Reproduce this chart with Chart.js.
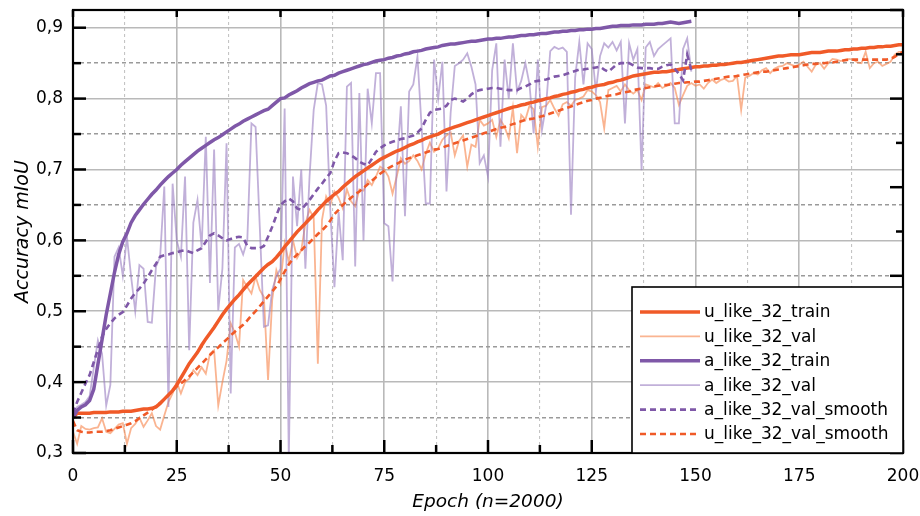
<!DOCTYPE html>
<html><head><meta charset="utf-8">
<script src="https://cdn.jsdelivr.net/npm/chart.js@4.4.0/dist/chart.umd.min.js"></script>
<style>html,body{margin:0;padding:0;background:#fff;}</style>
</head><body>
<canvas id="c" width="920" height="516" style="display:block;width:920px;height:516px"></canvas>
<script>
// ---------- data ----------
const seriesNames = ["u_like_32_train","u_like_32_val","a_like_32_train","a_like_32_val","a_like_32_val_smooth","u_like_32_val_smooth"];
const xTickLabels = [0,25,50,75,100,125,150,175,200];
const xMinorTicks = [12.5,37.5,62.5,87.5,112.5,137.5,162.5,187.5];
const yTickLabels = [0.3,0.4,0.5,0.6,0.7,0.8,0.9];
const yMinorTicks = [0.35,0.45,0.55,0.65,0.75,0.85];
const rightTicks = [0,0.1,0.2,0.3,0.4,0.5,0.6,0.7,0.8,0.9,1.0];

const uTrain = [
0.350,0.356,0.356,0.356,0.356,0.357,0.357,0.357,0.357,0.358,
0.358,0.358,0.359,0.359,0.359,0.360,0.361,0.362,0.362,0.363,
0.365,0.370,0.376,0.382,0.388,0.396,0.406,0.416,0.426,0.434,
0.442,0.452,0.461,0.469,0.477,0.486,0.495,0.503,0.510,0.517,
0.523,0.530,0.537,0.543,0.549,0.555,0.561,0.566,0.570,0.576,
0.583,0.591,0.598,0.605,0.612,0.618,0.624,0.630,0.636,0.643,
0.649,0.655,0.660,0.665,0.669,0.675,0.680,0.685,0.690,0.694,
0.698,0.702,0.706,0.710,0.714,0.717,0.720,0.723,0.726,0.728,
0.731,0.734,0.736,0.739,0.741,0.744,0.746,0.748,0.750,0.753,
0.756,0.758,0.760,0.762,0.764,0.766,0.768,0.770,0.772,0.774,
0.776,0.778,0.780,0.782,0.784,0.786,0.788,0.789,0.791,0.792,
0.794,0.795,0.797,0.798,0.800,0.801,0.803,0.804,0.806,0.807,
0.809,0.810,0.812,0.813,0.815,0.816,0.818,0.819,0.820,0.822,
0.823,0.825,0.826,0.828,0.830,0.832,0.833,0.834,0.835,0.836,
0.837,0.837,0.838,0.838,0.839,0.840,0.841,0.842,0.843,0.844,
0.845,0.845,0.846,0.846,0.847,0.847,0.848,0.848,0.849,0.850,
0.851,0.851,0.852,0.853,0.854,0.855,0.856,0.857,0.858,0.859,
0.860,0.860,0.861,0.862,0.862,0.862,0.863,0.864,0.865,0.865,
0.865,0.866,0.867,0.867,0.867,0.868,0.869,0.869,0.870,0.870,
0.871,0.871,0.872,0.872,0.873,0.873,0.874,0.874,0.875,0.876,
0.876];

const uVal = [
0.330,0.313,0.338,0.334,0.333,0.335,0.336,0.349,0.330,0.328,
0.334,0.340,0.342,0.313,0.335,0.341,0.350,0.337,0.346,0.356,
0.338,0.333,0.353,0.372,0.384,0.400,0.384,0.400,0.405,0.417,
0.410,0.421,0.412,0.440,0.445,0.367,0.400,0.430,0.483,0.470,
0.450,0.544,0.534,0.525,0.549,0.530,0.520,0.403,0.516,0.558,
0.540,0.596,0.570,0.600,0.575,0.586,0.624,0.643,0.632,0.426,
0.629,0.662,0.650,0.669,0.660,0.645,0.672,0.655,0.648,0.672,
0.670,0.685,0.678,0.690,0.704,0.700,0.690,0.666,0.690,0.716,
0.708,0.712,0.720,0.712,0.700,0.722,0.738,0.725,0.730,0.742,
0.748,0.752,0.720,0.740,0.748,0.704,0.735,0.732,0.770,0.762,
0.765,0.770,0.746,0.770,0.760,0.744,0.787,0.723,0.777,0.770,
0.790,0.785,0.732,0.788,0.790,0.798,0.786,0.776,0.792,0.795,
0.790,0.798,0.800,0.803,0.812,0.810,0.805,0.795,0.758,0.812,
0.815,0.818,0.810,0.820,0.812,0.807,0.812,0.798,0.820,0.818,
0.816,0.822,0.815,0.818,0.822,0.815,0.791,0.805,0.818,0.822,
0.818,0.820,0.814,0.822,0.827,0.822,0.826,0.828,0.824,0.825,
0.832,0.784,0.830,0.832,0.836,0.834,0.840,0.843,0.836,0.842,
0.845,0.846,0.850,0.848,0.846,0.848,0.852,0.845,0.838,0.848,
0.850,0.842,0.850,0.856,0.855,0.853,0.855,0.856,0.855,0.851,
0.850,0.866,0.843,0.850,0.852,0.846,0.849,0.852,0.862,0.866,
0.866];

const uValSmooth = [
0.345,0.332,0.330,0.329,0.329,0.330,0.330,0.330,0.331,0.332,
0.334,0.336,0.338,0.340,0.342,0.345,0.349,0.353,0.357,0.361,
0.366,0.371,0.376,0.381,0.388,0.394,0.398,0.403,0.408,0.414,
0.420,0.426,0.432,0.438,0.444,0.449,0.455,0.460,0.466,0.471,
0.476,0.481,0.487,0.494,0.500,0.507,0.514,0.521,0.528,0.535,
0.545,0.556,0.566,0.574,0.580,0.586,0.592,0.597,0.603,0.609,
0.614,0.620,0.628,0.637,0.643,0.650,0.655,0.660,0.665,0.669,
0.674,0.679,0.684,0.689,0.694,0.698,0.702,0.705,0.708,0.711,
0.714,0.716,0.718,0.720,0.722,0.724,0.726,0.728,0.729,0.731,
0.733,0.735,0.737,0.739,0.741,0.743,0.745,0.747,0.749,0.751,
0.753,0.755,0.757,0.759,0.760,0.762,0.764,0.766,0.768,0.770,
0.771,0.772,0.774,0.775,0.777,0.779,0.781,0.783,0.785,0.787,
0.789,0.791,0.793,0.795,0.797,0.798,0.800,0.801,0.803,0.804,
0.805,0.806,0.808,0.809,0.810,0.812,0.813,0.814,0.815,0.816,
0.817,0.818,0.819,0.819,0.820,0.821,0.822,0.822,0.823,0.823,
0.824,0.824,0.825,0.826,0.827,0.828,0.829,0.830,0.831,0.831,
0.832,0.833,0.834,0.835,0.836,0.837,0.838,0.838,0.839,0.840,
0.841,0.842,0.843,0.844,0.845,0.846,0.847,0.848,0.849,0.849,
0.850,0.850,0.851,0.851,0.852,0.853,0.854,0.855,0.855,0.855,
0.855,0.855,0.855,0.855,0.855,0.855,0.855,0.856,0.859,0.863,
0.866];

const aTrain = [
0.350,0.360,0.365,0.368,0.374,0.390,0.425,0.460,0.495,0.525,
0.555,0.580,0.598,0.610,0.625,0.635,0.643,0.651,0.658,0.665,
0.671,0.678,0.684,0.690,0.695,0.700,0.706,0.711,0.716,0.721,
0.726,0.730,0.734,0.738,0.742,0.745,0.749,0.753,0.757,0.761,
0.764,0.768,0.771,0.774,0.777,0.780,0.783,0.785,0.790,0.795,
0.800,0.801,0.805,0.808,0.811,0.815,0.818,0.821,0.823,0.825,
0.826,0.829,0.832,0.833,0.836,0.838,0.840,0.842,0.844,0.846,
0.848,0.849,0.851,0.853,0.854,0.855,0.857,0.858,0.860,0.861,
0.863,0.864,0.866,0.867,0.868,0.870,0.871,0.872,0.873,0.875,
0.876,0.877,0.877,0.878,0.879,0.880,0.881,0.881,0.882,0.883,
0.884,0.884,0.885,0.885,0.886,0.887,0.887,0.888,0.889,0.889,
0.890,0.890,0.891,0.892,0.892,0.893,0.894,0.894,0.895,0.895,
0.896,0.896,0.897,0.897,0.898,0.898,0.899,0.899,0.900,0.901,
0.902,0.902,0.903,0.903,0.903,0.904,0.904,0.904,0.905,0.905,
0.905,0.906,0.906,0.907,0.908,0.907,0.906,0.907,0.908,0.909];

const aVal = [
0.355,0.365,0.368,0.372,0.380,0.420,0.459,0.440,0.367,0.396,
0.577,0.590,0.550,0.605,0.549,0.500,0.565,0.560,0.485,0.484,
0.563,0.577,0.676,0.365,0.680,0.600,0.577,0.690,0.445,0.625,
0.657,0.590,0.746,0.540,0.728,0.501,0.560,0.737,0.384,0.590,
0.595,0.580,0.600,0.765,0.760,0.620,0.478,0.480,0.530,0.549,
0.560,0.786,0.290,0.690,0.620,0.700,0.560,0.690,0.784,0.822,
0.820,0.790,0.643,0.534,0.640,0.572,0.817,0.822,0.563,0.808,
0.600,0.814,0.765,0.836,0.836,0.624,0.620,0.542,0.704,0.789,
0.634,0.810,0.820,0.859,0.760,0.652,0.652,0.855,0.800,0.852,
0.669,0.780,0.846,0.850,0.855,0.864,0.845,0.820,0.709,0.720,
0.690,0.840,0.878,0.732,0.855,0.800,0.878,0.810,0.825,0.850,
0.820,0.751,0.855,0.756,0.790,0.867,0.873,0.870,0.872,0.866,
0.636,0.830,0.880,0.820,0.878,0.870,0.810,0.860,0.878,0.872,
0.880,0.868,0.880,0.765,0.878,0.855,0.870,0.699,0.872,0.880,
0.860,0.870,0.875,0.880,0.885,0.765,0.765,0.870,0.885,0.838];

const aValSmooth = [
0.356,0.372,0.385,0.398,0.410,0.428,0.446,0.464,0.475,0.483,
0.490,0.495,0.499,0.508,0.518,0.526,0.532,0.539,0.548,0.558,
0.567,0.577,0.579,0.580,0.582,0.583,0.585,0.586,0.584,0.582,
0.586,0.589,0.598,0.607,0.610,0.607,0.603,0.600,0.602,0.604,
0.605,0.604,0.592,0.589,0.589,0.589,0.592,0.605,0.619,0.635,
0.650,0.655,0.659,0.655,0.645,0.643,0.650,0.657,0.665,0.673,
0.680,0.688,0.695,0.712,0.723,0.724,0.723,0.720,0.716,0.711,
0.708,0.706,0.715,0.725,0.730,0.734,0.737,0.739,0.741,0.743,
0.744,0.746,0.748,0.752,0.758,0.770,0.780,0.784,0.785,0.786,
0.790,0.798,0.800,0.798,0.796,0.800,0.806,0.810,0.812,0.813,
0.814,0.815,0.815,0.814,0.813,0.812,0.812,0.812,0.815,0.817,
0.820,0.824,0.825,0.826,0.827,0.829,0.831,0.832,0.833,0.835,
0.837,0.839,0.841,0.841,0.842,0.843,0.844,0.845,0.841,0.838,
0.843,0.848,0.850,0.850,0.850,0.847,0.844,0.843,0.843,0.843,
0.842,0.842,0.845,0.847,0.848,0.842,0.835,0.826,0.862,0.840];

// ---------- build chart ----------
const pts = arr => arr.map((v, i) => ({x: i, y: v}));
const ORANGE = '#f05a28', ORANGE_L = 'rgba(247,130,72,0.6)';
const PURPLE = '#7f58a8', PURPLE_L = 'rgba(152,123,192,0.6)';

Chart.defaults.font.family = "'DejaVu Sans', sans-serif";
Chart.defaults.font.size = 17;
Chart.defaults.color = '#000';

const datasets = [
  {label: seriesNames[0], data: pts(uTrain), borderColor: ORANGE, borderWidth: 3.5, order: 3},
  {label: seriesNames[1], data: pts(uVal), borderColor: ORANGE_L, borderWidth: 1.8, order: 5},
  {label: seriesNames[2], data: pts(aTrain), borderColor: PURPLE, borderWidth: 3.5, order: 2},
  {label: seriesNames[3], data: pts(aVal), borderColor: PURPLE_L, borderWidth: 1.8, order: 4},
  {label: seriesNames[4], data: pts(aValSmooth), borderColor: PURPLE, borderWidth: 2.6, borderDash: [6, 4], order: 1},
  {label: seriesNames[5], data: pts(uValSmooth), borderColor: ORANGE, borderWidth: 2.6, borderDash: [6, 4], order: 0}
].map(d => Object.assign({pointRadius: 0, tension: 0, fill: false, borderCapStyle: 'butt'}, d));

const setTicks = arr => (s => { s.ticks = arr.map(v => ({value: v})); });
const fmt = v => v.toFixed(1).replace('.', ',');
const noPadH = h => (s => { s.height = h; s.paddingLeft = 0; s.paddingRight = 0; });
const noPadW = w => (s => { s.width = w; s.paddingTop = 0; s.paddingBottom = 0; });

const frameAndTicks = {
  id: 'frameAndTicks',
  afterDraw(chart) {
    const {ctx, chartArea: a, scales} = chart;
    const seg = (x1, y1, x2, y2) => { ctx.beginPath(); ctx.moveTo(x1, y1); ctx.lineTo(x2, y2); ctx.stroke(); };
    ctx.save();
    ctx.strokeStyle = '#000';
    ctx.lineWidth = 2.5;
    xTickLabels.forEach(v => { const p = scales.x.getPixelForValue(v); seg(p, a.bottom, p, a.bottom - 13); seg(p, a.top, p, a.top + 7); });
    xMinorTicks.forEach(v => { const p = scales.x.getPixelForValue(v); seg(p, a.bottom, p, a.bottom - 8); });
    yTickLabels.forEach(v => { const p = scales.y.getPixelForValue(v); seg(a.left, p, a.left + 13, p); });
    yMinorTicks.forEach(v => { const p = scales.y.getPixelForValue(v); seg(a.left, p, a.left + 8, p); });
    rightTicks.forEach((v, i) => { const p = scales.yR.getPixelForValue(v); seg(a.right, p, a.right - (i % 2 === 0 ? 13 : 7), p); });
    ctx.lineWidth = 2.2;
    ctx.strokeRect(a.left, a.top, a.right - a.left, a.bottom - a.top);
    ctx.restore();

    // legend box (bottom-right, inside plot)
    const w = 271, h = 166, x0 = a.right - w, y0 = a.bottom - h;
    ctx.save();
    ctx.fillStyle = '#fff';
    ctx.fillRect(x0, y0, w, h);
    ctx.strokeStyle = '#000';
    ctx.lineWidth = 1.6;
    ctx.strokeRect(x0, y0, w, h);
    ctx.font = "17px 'DejaVu Sans', sans-serif";
    ctx.textBaseline = 'middle';
    ctx.textAlign = 'left';
    chart.data.datasets.forEach((d, i) => {
      const yy = y0 + 25 + i * 24.4;
      ctx.strokeStyle = d.borderColor;
      ctx.lineWidth = d.borderWidth;
      ctx.setLineDash(d.borderDash || []);
      seg(x0 + 8, yy, x0 + 68, yy);
      ctx.setLineDash([]);
      ctx.fillStyle = '#000';
      ctx.fillText(d.label, x0 + 72, yy + 1);
    });
    ctx.restore();
  }
};

new Chart(document.getElementById('c'), {
  type: 'line',
  data: {datasets},
  options: {
    responsive: false,
    animation: false,
    devicePixelRatio: 1,
    layout: {padding: {top: 10, right: 17, bottom: 0, left: 0}},
    plugins: {legend: {display: false}, tooltip: {enabled: false}},
    scales: {
      x: {
        type: 'linear', position: 'bottom', min: 0, max: 200,
        afterBuildTicks: setTicks(xTickLabels),
        afterFit: noPadH(63),
        ticks: {padding: 13, callback: v => String(v), font: {size: 17}, maxRotation: 0},
        grid: {color: '#b9b9b9', lineWidth: 1.6, drawTicks: false},
        border: {display: false},
        title: {display: true, text: 'Epoch (n=2000)', font: {size: 18.5, style: 'italic'}, padding: {top: 0, bottom: 3}}
      },
      xMinor: {
        type: 'linear', position: 'bottom', min: 0, max: 200,
        afterBuildTicks: setTicks(xMinorTicks),
        afterFit: noPadH(0),
        ticks: {display: false},
        grid: {color: '#c4c4c4', lineWidth: 1.1, drawTicks: false},
        border: {display: false, dash: [3, 3]}
      },
      y: {
        type: 'linear', position: 'left', min: 0.3, max: 0.925,
        afterBuildTicks: setTicks(yTickLabels),
        afterFit: noPadW(73),
        ticks: {padding: 10, callback: v => fmt(v), font: {size: 17}},
        grid: {color: '#b9b9b9', lineWidth: 1.6, drawTicks: false},
        border: {display: false},
        title: {display: true, text: 'Accuracy mIoU', font: {size: 19, style: 'italic'}, padding: {top: 12, bottom: 0}}
      },
      yMinor: {
        type: 'linear', position: 'left', min: 0.3, max: 0.925,
        afterBuildTicks: setTicks(yMinorTicks),
        afterFit: noPadW(0),
        ticks: {display: false},
        grid: {color: '#9a9a9a', lineWidth: 1.4, drawTicks: false},
        border: {display: false, dash: [4, 3]}
      },
      yR: {
        type: 'linear', position: 'right', min: 0, max: 1,
        afterBuildTicks: setTicks(rightTicks),
        afterFit: noPadW(0),
        ticks: {display: false},
        grid: {display: false, drawTicks: false},
        border: {display: false}
      }
    }
  },
  plugins: [frameAndTicks]
});
</script>
</body></html>
